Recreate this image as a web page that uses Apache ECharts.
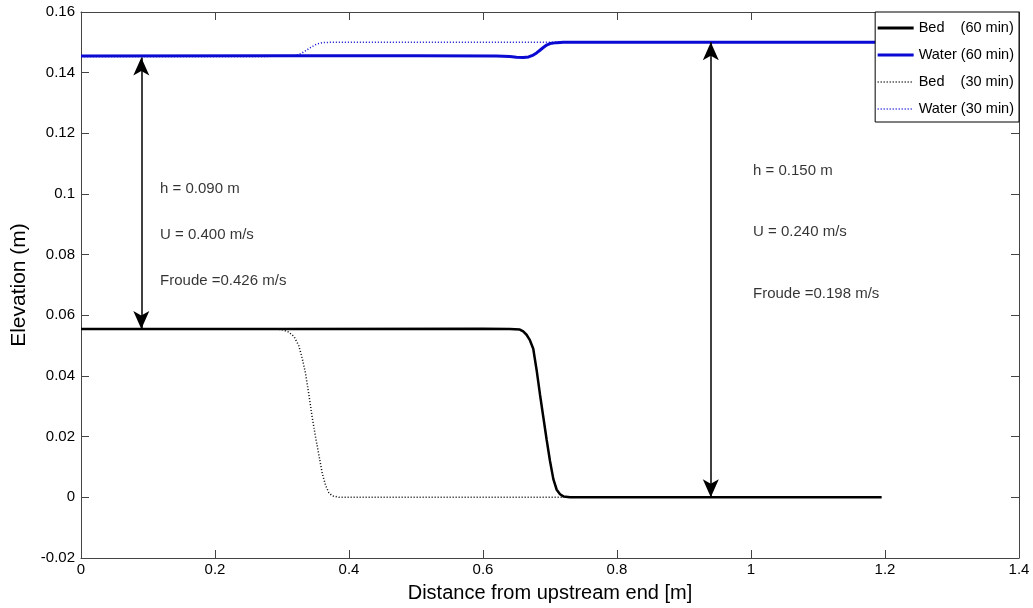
<!DOCTYPE html>
<html>
<head>
<meta charset="utf-8">
<script src="https://cdn.jsdelivr.net/npm/echarts@6/dist/echarts.min.js"></script>
<style>html,body{margin:0;padding:0;background:#fff}#c{width:1033px;height:608px}</style>
</head>
<body>
<div id="c"></div>
<script>
// ---- data ----
const bed60X   = [0, 0.3, 0.6, 0.64, 0.655, 0.66, 0.665, 0.67, 0.675, 0.68, 0.685, 0.69, 0.695, 0.70, 0.705, 0.71, 0.715, 0.72, 0.73, 1.0, 1.195];
const bed60Y   = [0.0555, 0.0555, 0.0556, 0.0555, 0.0553, 0.0547, 0.0536, 0.0518, 0.049, 0.042, 0.034, 0.0265, 0.019, 0.012, 0.006, 0.0025, 0.001, 0.0003, 0.0, 0.0, 0.0];
const water60X = [0, 0.3, 0.5, 0.62, 0.64, 0.65, 0.66, 0.668, 0.675, 0.68, 0.685, 0.69, 0.695, 0.70, 0.71, 0.72, 1.0, 1.4];
const water60Y = [0.1455, 0.1456, 0.1456, 0.1455, 0.1453, 0.1451, 0.1450, 0.1452, 0.1458, 0.1465, 0.1474, 0.1483, 0.1491, 0.1496, 0.1499, 0.150, 0.150, 0.150];
const bed30X   = [0, 0.2, 0.29, 0.30, 0.31, 0.318, 0.325, 0.33, 0.335, 0.34, 0.345, 0.35, 0.355, 0.36, 0.365, 0.37, 0.375, 0.385, 0.4, 0.72];
const bed30Y   = [0.0555, 0.0555, 0.0555, 0.0553, 0.0545, 0.053, 0.050, 0.046, 0.041, 0.034, 0.0265, 0.020, 0.014, 0.008, 0.004, 0.0015, 0.0005, 0, 0, 0];
const water30X = [0, 0.2, 0.31, 0.32, 0.325, 0.33, 0.335, 0.34, 0.345, 0.35, 0.355, 0.36, 0.37, 0.4, 0.6, 0.72];
const water30Y = [0.1453, 0.1453, 0.1454, 0.1457, 0.1460, 0.1465, 0.1472, 0.1479, 0.1486, 0.1492, 0.1496, 0.1499, 0.150, 0.150, 0.150, 0.150];
const seriesNames = ['Bed    (60 min)', 'Water (60 min)', 'Bed    (30 min)', 'Water (30 min)'];
// depth arrows: [x, yFrom, yTo]
const arrows = [[0.09, 0.0555, 0.145], [0.94, 0.0, 0.150]];
// annotation texts: [x, y, text]
const notes = [
  [0.118, 0.1018, 'h = 0.090 m'],
  [0.118, 0.0864, 'U = 0.400 m/s'],
  [0.118, 0.0714, 'Froude =0.426 m/s'],
  [1.003, 0.1077, 'h = 0.150 m'],
  [1.003, 0.0874, 'U = 0.240 m/s'],
  [1.003, 0.0671, 'Froude =0.198 m/s']
];
const xTicks = {min: 0, max: 1.4, interval: 0.2};
const yTicks = {min: -0.02, max: 0.16, interval: 0.02};

const zip = (xs, ys) => xs.map((x, i) => [x, ys[i]]);
const FONT = 'Liberation Sans, Arial, sans-serif';
const styles = [
  {color: '#000', width: 2.5, type: 'solid'},
  {color: '#0a0ad2', width: 3, type: 'solid'},
  {color: '#000', width: 1.5, type: [1, 2]},
  {color: '#0a0ad2', width: 1.5, type: [1, 2]}
];
const axisCommon = {
  axisLine: {show: true, onZero: false, lineStyle: {color: '#444', width: 1}},
  axisTick: {show: true, inside: true, length: 8, lineStyle: {color: '#444'}},
  splitLine: {show: false}
};
const lineSeries = (i, xs, ys) => ({
  name: seriesNames[i], type: 'line', data: zip(xs, ys), showSymbol: false, symbol: 'none',
  lineStyle: styles[i], itemStyle: {color: styles[i].color}
});
const chart = echarts.init(document.getElementById('c'));
chart.setOption({
  animation: false,
  backgroundColor: '#fff',
  grid: {left: 81, right: 14, top: 12, bottom: 46},
  legend: {
    right: 14, top: 12, orient: 'vertical', align: 'left',
    backgroundColor: '#fff', borderColor: '#000', borderWidth: 1,
    padding: [7, 5, 4, 1], itemWidth: 36, itemHeight: 14, itemGap: 9,
    selectedMode: false, z: 10,
    itemStyle: {opacity: 0},
    textStyle: {fontFamily: FONT, fontSize: 14.5, color: '#000', lineHeight: 18},
    data: seriesNames.map((n, i) => ({name: n, lineStyle: {width: styles[i].type === 'solid' ? 3 : 1.5}}))
  },
  xAxis: [
    Object.assign({type: 'value', position: 'bottom', min: xTicks.min, max: xTicks.max, interval: xTicks.interval,
      name: 'Distance from upstream end [m]', nameLocation: 'middle', nameGap: 25,
      nameTextStyle: {fontFamily: FONT, fontSize: 20, color: '#000'},
      axisLabel: {fontFamily: FONT, fontSize: 15, color: '#000', margin: 4}}, axisCommon),
    Object.assign({type: 'value', position: 'top', min: xTicks.min, max: xTicks.max, interval: xTicks.interval,
      axisLabel: {show: false}}, axisCommon)
  ],
  yAxis: [
    Object.assign({type: 'value', position: 'left', min: yTicks.min, max: yTicks.max, interval: yTicks.interval,
      name: 'Elevation (m)', nameLocation: 'middle', nameGap: 46,
      nameTextStyle: {fontFamily: FONT, fontSize: 21, color: '#000'},
      axisLabel: {fontFamily: FONT, fontSize: 15, color: '#000', margin: 6}}, axisCommon),
    Object.assign({type: 'value', position: 'right', min: yTicks.min, max: yTicks.max, interval: yTicks.interval,
      axisLabel: {show: false}}, axisCommon)
  ],
  series: [
    lineSeries(0, bed60X, bed60Y),
    lineSeries(1, water60X, water60Y),
    lineSeries(2, bed30X, bed30Y),
    lineSeries(3, water30X, water30Y),
    {name: 'arrows', type: 'line', data: [], silent: true,
     markLine: {
       silent: true, animation: false, symbol: ['arrow', 'arrow'], symbolSize: [12, 18],
       lineStyle: {color: '#000', width: 1.5, type: 'solid'}, itemStyle: {color: '#000'},
       label: {show: false},
       data: arrows.map(a => [{coord: [a[0], a[1]]}, {coord: [a[0], a[2]]}])
     }},
    {name: 'notes', type: 'scatter', data: notes.map(n => ({value: [n[0], n[1]], name: n[2]})),
     symbolSize: 0, silent: true,
     label: {show: true, position: 'right', distance: 0, formatter: p => p.name,
       fontFamily: FONT, fontSize: 15, color: '#000'}}
  ]
});
</script>
</body>
</html>
